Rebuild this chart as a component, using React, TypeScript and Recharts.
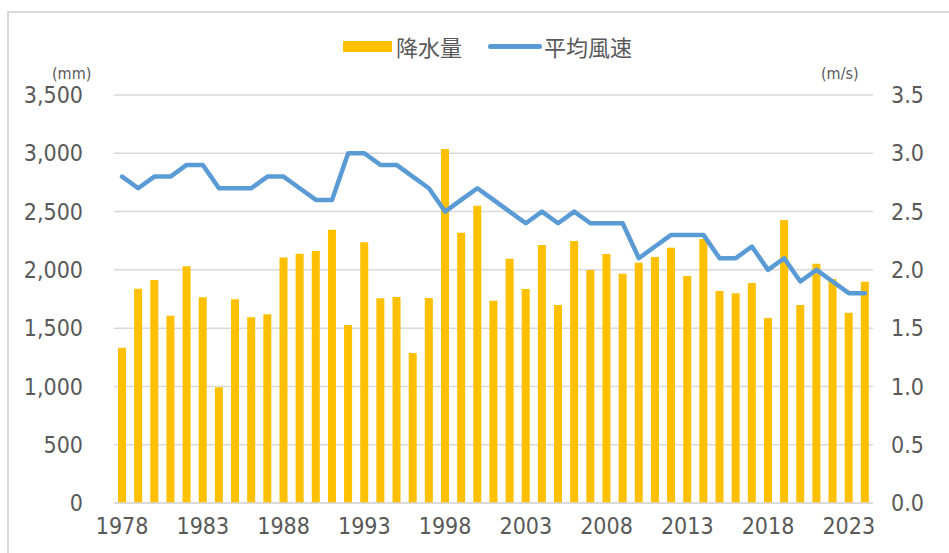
import React from "react";
import { ComposedChart, Bar, Line, XAxis, YAxis, CartesianGrid } from "recharts";

const years = [
    1978, 1979, 1980, 1981, 1982, 1983, 1984, 1985, 1986, 1987,
    1988, 1989, 1990, 1991, 1992, 1993, 1994, 1995, 1996, 1997,
    1998, 1999, 2000, 2001, 2002, 2003, 2004, 2005, 2006, 2007,
    2008, 2009, 2010, 2011, 2012, 2013, 2014, 2015, 2016, 2017,
    2018, 2019, 2020, 2021, 2022, 2023, 2024,
];

// 降水量 (mm)
const rainfall = [
    1332, 1838, 1913, 1607, 2030, 1764, 992, 1747, 1593, 1619,
    2107, 2139, 2162, 2345, 1527, 2236, 1756, 1767, 1287, 1758,
    3037, 2319, 2550, 1736, 2096, 1836, 2213, 1698, 2247, 1999,
    2136, 1967, 2061, 2110, 2190, 1947, 2265, 1819, 1799, 1887,
    1587, 2428, 1698, 2053, 1921, 1633, 1898,
];

// 平均風速 (m/s)
const windSpeed = [
    2.8, 2.7, 2.8, 2.8, 2.9, 2.9, 2.7, 2.7, 2.7, 2.8,
    2.8, 2.7, 2.6, 2.6, 3.0, 3.0, 2.9, 2.9, 2.8, 2.7,
    2.5, 2.6, 2.7, 2.6, 2.5, 2.4, 2.5, 2.4, 2.5, 2.4,
    2.4, 2.4, 2.1, 2.2, 2.3, 2.3, 2.3, 2.1, 2.1, 2.2,
    2.0, 2.1, 1.9, 2.0, 1.9, 1.8, 1.8,
];

const leftTicks = [0, 500, 1000, 1500, 2000, 2500, 3000, 3500];
const rightTicks = [0, 0.5, 1.0, 1.5, 2.0, 2.5, 3.0, 3.5];

const data = years.map((y, i) => ({ year: y, rain: rainfall[i], wind: windSpeed[i] }));

const TEXT = "#595959";
const FONT = "'Liberation Sans Narrow', 'DejaVu Sans Condensed', 'Noto Sans CJK JP', sans-serif";
const CJK = "'Noto Sans CJK JP', sans-serif";

const App: React.FC = () => {
    return (
        <div style={{ position: "absolute", left: 0, top: 0, width: 949, height: 553, background: "#fff", overflow: "hidden" }}>
            <div style={{ position: "absolute", left: 7, top: 11, width: 960, height: 600, borderLeft: "2px solid #d9d9d9", borderTop: "2px solid #d9d9d9" }} />

            {/* legend */}
            <div style={{ position: "absolute", left: 343, top: 41, width: 49, height: 11, background: "#ffc000" }} />
            <div style={{ position: "absolute", left: 396, top: 31, fontFamily: CJK, fontSize: 22, color: TEXT, lineHeight: "30px" }}>降水量</div>
            <div style={{ position: "absolute", left: 488, top: 43.5, width: 54, height: 5, borderRadius: 3, background: "#5b9bd5" }} />
            <div style={{ position: "absolute", left: 544, top: 31, fontFamily: CJK, fontSize: 22, color: TEXT, lineHeight: "30px" }}>平均風速</div>

            <div style={{ position: "absolute", left: 52, top: 64, fontFamily: FONT, fontSize: 16, color: TEXT }}>(mm)</div>
            <div style={{ position: "absolute", left: 821, top: 64, fontFamily: FONT, fontSize: 16, color: TEXT }}>(m/s)</div>

            <ComposedChart
                width={949}
                height={553}
                data={data}
                margin={{ top: 95, right: 0, bottom: 0, left: 0 }}
                style={{ position: "absolute", left: 0, top: 0 }}
            >
                <CartesianGrid yAxisId="left" vertical={false} stroke="#d9d9d9" strokeWidth={1.5} />
                <XAxis
                    dataKey="year"
                    interval={4}
                    height={50}
                    axisLine={{ stroke: "#d9d9d9", strokeWidth: 1.5 }}
                    tickLine={false}
                    tickSize={0}
                    tickMargin={15}
                    tick={{ fill: TEXT, fontSize: 23, fontFamily: FONT }}
                />
                <YAxis
                    yAxisId="left"
                    orientation="left"
                    width={114}
                    domain={[0, 3500]}
                    ticks={leftTicks}
                    axisLine={false}
                    tickLine={false}
                    tickSize={0}
                    tickMargin={31}
                    tickFormatter={(v: number) => v.toLocaleString("en-US")}
                    tick={{ fill: TEXT, fontSize: 23, fontFamily: FONT }}
                />
                <YAxis
                    yAxisId="right"
                    orientation="right"
                    width={76}
                    domain={[0, 3.5]}
                    ticks={rightTicks}
                    axisLine={false}
                    tickLine={false}
                    tickSize={0}
                    tickMargin={18}
                    tickFormatter={(v: number) => v.toFixed(1)}
                    tick={{ fill: TEXT, fontSize: 23, fontFamily: FONT }}
                />
                <Bar yAxisId="left" dataKey="rain" name="降水量" fill="#ffc000" barSize={8} isAnimationActive={false} />
                <Line
                    yAxisId="right"
                    dataKey="wind"
                    name="平均風速"
                    type="linear"
                    stroke="#5b9bd5"
                    strokeWidth={4.5}
                    strokeLinejoin="round"
                    strokeLinecap="round"
                    dot={false}
                    activeDot={false}
                    isAnimationActive={false}
                />
            </ComposedChart>
        </div>
    );
};

export default App;
